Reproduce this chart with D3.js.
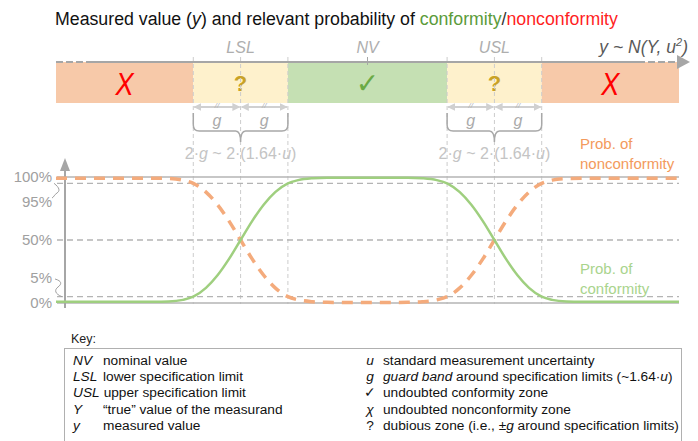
<!DOCTYPE html>
<html>
<head>
<meta charset="utf-8">
<script src="https://cdn.jsdelivr.net/npm/d3@7"></script>
<style>
  body { margin: 0; background: #fff; }
  svg { font-family: "Liberation Sans", Arial, sans-serif; }
</style>
</head>
<body>
<div id="chart"></div>
<script>
// limits in units of u, NV at 0
var LSL = -4.4, USL = 4.4, NV = 0, G = 1.64;
var xMin = -10.8, xMax = 10.8;

// values
var measured = [-10.8, -7.4, -6.9, -6.4, -6.04, -5.6, -5.2, -4.8, -4.4, -4.0, -3.6, -3.2, -2.76, -2.4, -1.9, -1.4, 0,
                1.4, 1.9, 2.4, 2.76, 3.2, 3.6, 4.0, 4.4, 4.8, 5.2, 5.6, 6.04, 6.4, 6.9, 7.4, 10.8];
var probConformity = [0.01, 0.01, 0.012, 0.025, 0.05, 0.12, 0.22, 0.35, 0.5, 0.65, 0.78, 0.88, 0.95, 0.975, 0.99, 0.995, 0.995,
                      0.995, 0.99, 0.975, 0.95, 0.88, 0.78, 0.65, 0.5, 0.35, 0.22, 0.12, 0.05, 0.025, 0.012, 0.01, 0.01];
var probNonconformity = [0.99, 0.99, 0.988, 0.975, 0.95, 0.88, 0.78, 0.65, 0.5, 0.35, 0.22, 0.12, 0.05, 0.025, 0.01, 0.005, 0.003,
                         0.005, 0.01, 0.025, 0.05, 0.12, 0.22, 0.35, 0.5, 0.65, 0.78, 0.88, 0.95, 0.975, 0.988, 0.99, 0.99];

var zones = [
  { from: xMin, to: LSL - G, kind: "no" },
  { from: LSL - G, to: LSL + G, kind: "dub" },
  { from: LSL + G, to: USL - G, kind: "yes" },
  { from: USL - G, to: USL + G, kind: "dub" },
  { from: USL + G, to: xMax, kind: "no" }
];
var limitLabels = [{ v: LSL, t: "LSL" }, { v: NV, t: "NV" }, { v: USL, t: "USL" }];
var guides = [LSL - G, LSL, LSL + G, USL - G, USL, USL + G];

var yTicks = [1, 0.95, 0.5, 0.05, 0];
var yTickLabels = ["100%", "95%", "50%", "5%", "0%"];

var keyLeft = [["NV", "nominal value"], ["LSL", "lower specification limit"], ["USL", "upper specification limit"],
               ["Y", "\u201ctrue\u201d value of the measurand"], ["y", "measured value"]];
var keyRight = [["u", "standard measurement uncertainty"], ["g", "guard band around specification limits (~1.64\u00b7u)"],
                ["\u2713", "undoubted conformity zone"], ["\u03c7", "undoubted nonconformity zone"],
                ["?", "dubious zone (i.e., \u00b1g around specification limits)"]];

function init() {
  var w = 698, h = 441;

  var x = d3.scaleLinear().domain([xMin, xMax]).range([56, 679]);
  var y = d3.scaleLinear().domain([0, 1]).range([303, 177]);

  var svg = d3.select("#chart").append("svg")
    .attr("width", w).attr("height", h);

  // Title (font size fitted to the width of the original)
  var title = svg.append("text").attr("x", 55).attr("y", 25)
    .attr("font-size", "17px").attr("fill", "#111");
  title.append("tspan").text("Measured value (");
  title.append("tspan").attr("font-style", "italic").text("y");
  title.append("tspan").text(") and relevant probability of ");
  title.append("tspan").attr("fill", "#5b9b3a").text("conformity");
  title.append("tspan").attr("fill", "#333").text("/");
  title.append("tspan").attr("fill", "#ff1f1f").text("nonconformity");
  var tw = title.node().getComputedTextLength();
  title.attr("font-size", (17 * 563 / tw).toFixed(2) + "px");

  // Zone bar
  var zoneFill = { no: "#f7c9a9", dub: "#fef1cc", yes: "#c5e0b3" };
  svg.selectAll("rect.zone").data(zones).enter().append("rect")
    .attr("class", "zone")
    .attr("x", function(d) { return x(d.from); })
    .attr("y", 62)
    .attr("width", function(d) { return x(d.to) - x(d.from); })
    .attr("height", 41)
    .attr("fill", function(d) { return zoneFill[d.kind]; });

  var symbols = {
    no: { t: "X", c: "#ff0000", f: "Liberation Sans", s: "32px", wt: "normal", st: "italic", y: 95, sx: 0.85 },
    dub: { t: "?", c: "#c9a227", f: "Liberation Sans", s: "22px", wt: "bold", st: "normal", y: 91, sx: 1 },
    yes: { t: "\u2713", c: "#6aaa45", f: "DejaVu Sans", s: "28px", wt: "normal", st: "normal", y: 93, sx: 1 }
  };
  svg.selectAll("text.zsym").data(zones).enter().append("text")
    .attr("class", "zsym")
    .attr("transform", function(d) {
      var cx = d.kind == "dub" ? x(d.from < 0 ? LSL : USL) : (x(d.from) + x(d.to)) / 2;
      return "translate(" + cx + "," + symbols[d.kind].y + ") scale(" + symbols[d.kind].sx + ",1)";
    })
    .attr("text-anchor", "middle")
    .attr("font-family", function(d) { return symbols[d.kind].f; })
    .attr("font-size", function(d) { return symbols[d.kind].s; })
    .attr("font-weight", function(d) { return symbols[d.kind].wt; })
    .attr("font-style", function(d) { return symbols[d.kind].st; })
    .attr("fill", function(d) { return symbols[d.kind].c; })
    .text(function(d) { return symbols[d.kind].t; });

  // Guide lines (vertical dashed)
  svg.selectAll("line.guide").data(guides).enter().append("line")
    .attr("class", "guide")
    .attr("x1", function(d) { return x(d); }).attr("x2", function(d) { return x(d); })
    .attr("y1", 57).attr("y2", 304)
    .attr("stroke", "#cccccc").attr("stroke-width", 1)
    .attr("stroke-dasharray", "4,3");

  // measured value axis
  svg.append("line").attr("x1", 92).attr("x2", 638).attr("y1", 62).attr("y2", 62)
    .attr("stroke", "#a6a6a6").attr("stroke-width", 2);
  svg.append("line").attr("x1", 56).attr("x2", 92).attr("y1", 62).attr("y2", 62)
    .attr("stroke", "#a6a6a6").attr("stroke-width", 2).attr("stroke-dasharray", "7,3");
  svg.append("line").attr("x1", 638).attr("x2", 678).attr("y1", 62).attr("y2", 62)
    .attr("stroke", "#a6a6a6").attr("stroke-width", 2).attr("stroke-dasharray", "7,3");
  svg.append("path").attr("d", "M677,55 L690,62 L677,69 Z").attr("fill", "#a6a6a6");
  svg.append("line").attr("x1", x(NV)).attr("x2", x(NV)).attr("y1", 57).attr("y2", 65)
    .attr("stroke", "#a6a6a6").attr("stroke-width", 1);

  svg.selectAll("text.lim").data(limitLabels).enter().append("text")
    .attr("class", "lim")
    .attr("x", function(d) { return x(d.v); }).attr("y", 53)
    .attr("text-anchor", "middle").attr("font-size", "16px")
    .attr("font-style", "italic").attr("fill", "#aeaeae")
    .text(function(d) { return d.t; });

  var dist = svg.append("text").attr("x", 688).attr("y", 53).attr("text-anchor", "end")
    .attr("font-size", "17.5px").attr("fill", "#595959").attr("font-style", "italic");
  dist.append("tspan").text("y ~ N(Y, u");
  dist.append("tspan").attr("font-size", "11px").attr("dy", -7).text("2");
  dist.append("tspan").attr("dy", 7).text(")");

  // guard band arrows and brace (one per limit)
  var defs = svg.append("defs");
  defs.append("marker").attr("id", "ah").attr("viewBox", "0 0 10 10")
    .attr("refX", 9).attr("refY", 5).attr("markerWidth", 4).attr("markerHeight", 4)
    .attr("orient", "auto-start-reverse")
    .append("path").attr("d", "M0,0 L10,5 L0,10 Z").attr("fill", "#d0d0d0");

  [LSL, USL].forEach(function(lim) {
    var cx = x(lim), a = x(lim - G), b = x(lim + G);
    [[a, cx], [cx, b]].forEach(function(seg) {
      svg.append("line").attr("x1", seg[0] + 1).attr("x2", seg[1] - 1)
        .attr("y1", 107).attr("y2", 107)
        .attr("stroke", "#d0d0d0").attr("stroke-width", 2)
        .attr("marker-start", "url(#ah)").attr("marker-end", "url(#ah)");
      var m = (seg[0] + seg[1]) / 2;
      svg.append("text").attr("x", m).attr("y", 108).attr("text-anchor", "middle")
        .attr("font-size", "8px").attr("font-style", "italic").attr("fill", "#b0b0b0").text("//");
      svg.append("text").attr("x", m).attr("y", 126).attr("text-anchor", "middle")
        .attr("font-size", "16px").attr("font-style", "italic").attr("fill", "#aaaaaa").text("g");
    });
    svg.append("path")
      .attr("d", "M" + a + ",113 L" + a + ",125 Q" + a + ",131 " + (a + 6) + ",131 L" + (cx - 5) + ",131 Q" + cx + ",131 " + cx + ",142" +
                 " Q" + cx + ",131 " + (cx + 5) + ",131 L" + (b - 6) + ",131 Q" + b + ",131 " + b + ",125 L" + b + ",113")
      .attr("fill", "none").attr("stroke", "#a8a8a8").attr("stroke-width", 1.5);
    var gl = svg.append("text").attr("x", cx).attr("y", 159).attr("text-anchor", "middle")
      .attr("font-size", "16px").attr("fill", "#c4c4c4");
    gl.append("tspan").text("2\u00b7");
    gl.append("tspan").attr("font-style", "italic").text("g");
    gl.append("tspan").text(" ~ 2\u00b7(1.64\u00b7");
    gl.append("tspan").attr("font-style", "italic").text("u");
    gl.append("tspan").text(")");
  });

  // horizontal reference lines
  svg.selectAll("line.ref").data(yTicks).enter().append("line")
    .attr("class", "ref")
    .attr("x1", 57).attr("x2", 679)
    .attr("y1", function(d) { return y(d); }).attr("y2", function(d) { return y(d); })
    .attr("stroke", "#b4b4b4")
    .attr("stroke-width", function(d) { return (d == 0 || d == 1) ? 1.5 : 1.3; })
    .attr("stroke-dasharray", function(d) { return (d == 0 || d == 1) ? null : "6,4"; });

  // y axis
  svg.append("line").attr("x1", 65).attr("x2", 65).attr("y1", 170).attr("y2", 308)
    .attr("stroke", "#a6a6a6").attr("stroke-width", 2);
  svg.append("path").attr("d", "M65,158 L70,171 L60,171 Z").attr("fill", "#a6a6a6");

  var labelOffset = { 1: 0, 0.95: 19, 0.5: 0, 0.05: -19, 0: 0 };
  svg.selectAll("text.ytick").data(yTicks).enter().append("text")
    .attr("class", "ytick")
    .attr("x", 52)
    .attr("y", function(d) { return y(d) + labelOffset[d] + 5; })
    .attr("text-anchor", "end").attr("font-size", "15px").attr("fill", "#a0a0a0")
    .text(function(d, i) { return yTickLabels[i]; });
  // squiggly connectors
  svg.append("path").attr("d", "M54," + y(0.95) + " C60,188 60,191 57,193 C54,195 54,197 52,198")
    .attr("fill", "none").attr("stroke", "#a0a0a0").attr("stroke-width", 1);
  svg.append("path").attr("d", "M55,279 C62,281 62,284 58,287 C54,290 55,294 62," + y(0.05))
    .attr("fill", "none").attr("stroke", "#a0a0a0").attr("stroke-width", 1);

  // curves
  var pts = measured.map(function(v, i) { return { m: v, c: probConformity[i], n: probNonconformity[i] }; });
  var lineC = d3.line().x(function(d) { return x(d.m); }).y(function(d) { return y(d.c); }).curve(d3.curveMonotoneX);
  var lineN = d3.line().x(function(d) { return x(d.m); }).y(function(d) { return y(d.n); }).curve(d3.curveMonotoneX);

  svg.append("path").datum(pts).attr("d", lineN)
    .attr("fill", "none").attr("stroke", "#f4ab7c").attr("stroke-width", 3.5)
    .attr("stroke-dasharray", "11,8");
  svg.append("path").datum(pts).attr("d", lineC)
    .attr("fill", "none").attr("stroke", "#9fcf7f").attr("stroke-width", 2.5);

  // curve labels
  var ln = svg.append("text").attr("font-size", "15px").attr("fill", "#f39a5c");
  ln.append("tspan").attr("x", 580).attr("y", 149).text("Prob. of");
  ln.append("tspan").attr("x", 580).attr("y", 169).text("nonconformity");
  var lc = svg.append("text").attr("font-size", "15px").attr("fill", "#a9d48d");
  lc.append("tspan").attr("x", 580).attr("y", 274).text("Prob. of");
  lc.append("tspan").attr("x", 580).attr("y", 294).text("conformity");

  // Key
  svg.append("text").attr("x", 71).attr("y", 343).attr("font-size", "12.5px").attr("fill", "#222").text("Key:");
  svg.append("rect").attr("x", 64.5).attr("y", 348.5).attr("width", 617).attr("height", 100)
    .attr("fill", "none").attr("stroke", "#b0b0b0").attr("stroke-width", 1);

  // fit key font so the longest line spans like the original
  var probe = svg.append("text").attr("font-size", "13px").attr("x", 0).attr("y", -20);
  probe.append("tspan").text("dubious zone (i.e., \u00b1");
  probe.append("tspan").attr("font-style", "italic").text("g");
  probe.append("tspan").text(" around specification limits)");
  var fsNum = 13 * 296 / probe.node().getComputedTextLength();
  probe.remove();
  var fs = fsNum.toFixed(2) + "px";

  var rowY = function(i) { return 365 + i * 16.2; };
  keyLeft.forEach(function(r, i) {
    var s = svg.append("text").attr("x", 73).attr("y", rowY(i)).attr("font-size", fs)
      .attr("font-style", "italic").attr("fill", "#111").text(r[0]);
    var sw = s.node().getComputedTextLength();
    svg.append("text").attr("x", Math.max(103, 73 + sw + 4)).attr("y", rowY(i)).attr("font-size", fs)
      .attr("fill", "#111").text(r[1]);
  });

  keyRight.forEach(function(r, i) {
    svg.append("text").attr("x", 370).attr("y", rowY(i)).attr("font-size", fs)
      .attr("text-anchor", "middle")
      .attr("font-style", (i < 2 || i == 3) ? "italic" : "normal").attr("fill", "#111").text(r[0]);
    var t = svg.append("text").attr("x", 383).attr("y", rowY(i)).attr("font-size", fs).attr("fill", "#111");
    if (i == 1) {
      t.append("tspan").attr("font-style", "italic").text("guard band");
      t.append("tspan").text(" around specification limits (~1.64\u00b7");
      t.append("tspan").attr("font-style", "italic").text("u");
      t.append("tspan").text(")");
    } else if (i == 4) {
      t.append("tspan").text("dubious zone (i.e., \u00b1");
      t.append("tspan").attr("font-style", "italic").text("g");
      t.append("tspan").text(" around specification limits)");
    } else {
      t.text(r[1]);
    }
  });
}

window.onload = function() {
  init();
};
</script>
</body>
</html>
